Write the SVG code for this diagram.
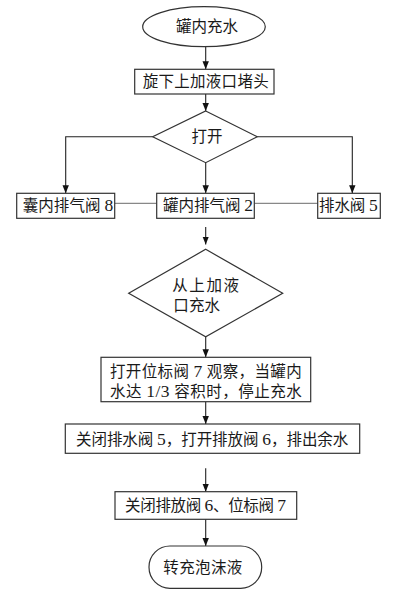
<svg xmlns="http://www.w3.org/2000/svg" width="412" height="596" viewBox="0 0 412 596">
<defs>
<marker id="ah" viewBox="0 0 10 10" refX="10" refY="5" markerWidth="8" markerHeight="8" markerUnits="userSpaceOnUse" orient="auto">
<path d="M0,1 L10,5 L0,9 Z" fill="#111"/>
</marker>
</defs>
<style>
.shape{fill:#fff;stroke:#333;stroke-width:1.2}
.t{font-family:"Liberation Serif","Noto Sans CJK SC",serif;font-size:15.5px;fill:#1a1a1a}
.d{font-size:17.5px}
.c{fill:none;stroke:#222;stroke-width:1.1}
.g{fill:none;stroke:#888;stroke-width:1.2}
.a{marker-end:url(#ah)}
</style>
<rect width="412" height="596" fill="#fff"/>
<g id="connectors">
<line class="c a" x1="205.7" y1="46.7" x2="205.7" y2="69.3"/>
<line class="c a" x1="205.7" y1="94" x2="205.7" y2="111"/>
<polyline class="c a" points="152.7,136.7 65.7,136.7 65.7,193.3"/>
<polyline class="c a" points="257.3,136.7 352.3,136.7 352.3,193.3"/>
<line class="c a" x1="205.7" y1="162.7" x2="205.7" y2="193.3"/>
<line class="g" x1="114.7" y1="203.3" x2="156.7" y2="203.3"/>
<line class="g" x1="254.3" y1="203.3" x2="317.7" y2="203.3"/>
<line class="c a" x1="205.7" y1="227" x2="205.7" y2="244.5"/>
<line class="c a" x1="205.7" y1="336.7" x2="205.7" y2="357.3"/>
<line class="c a" x1="205.7" y1="401.7" x2="205.7" y2="424"/>
<line class="c a" x1="205.7" y1="468.3" x2="205.7" y2="491.7"/>
<line class="c a" x1="205.7" y1="519.3" x2="205.7" y2="546"/>
</g>
<g id="start">
<ellipse class="shape" cx="204" cy="26.7" rx="61.3" ry="20"/>
<text class="t" x="207" y="32" text-anchor="middle">罐内充水</text>
</g>
<g id="step1">
<rect class="shape" x="134.7" y="69.3" width="139.3" height="24.7"/>
<text class="t" x="142.7" y="87" textLength="126" lengthAdjust="spacing">旋下上加液口堵头</text>
</g>
<g id="decision1">
<polygon class="shape" points="205.7,111 257.3,136.7 205.7,162.7 152.7,136.7"/>
<text class="t" x="207" y="142" text-anchor="middle">打开</text>
</g>
<g id="valve8">
<rect class="shape" x="16.7" y="193.3" width="98" height="25"/>
<text class="t" x="22.7" y="211" textLength="90.6" lengthAdjust="spacing">囊内排气阀 <tspan class="d">8</tspan></text>
</g>
<g id="valve2">
<rect class="shape" x="156.7" y="193.3" width="97.6" height="25"/>
<text class="t" x="163" y="211" textLength="90" lengthAdjust="spacing">罐内排气阀 <tspan class="d">2</tspan></text>
</g>
<g id="valve5">
<rect class="shape" x="317.7" y="193.3" width="62.6" height="25"/>
<text class="t" x="319" y="211" textLength="58.7" lengthAdjust="spacing">排水阀 <tspan class="d">5</tspan></text>
</g>
<g id="decision2">
<polygon class="shape" points="205.7,249.3 282.7,293.3 205.7,336.7 128.7,293.3"/>
<text class="t" x="172.3" y="291" textLength="66.7" lengthAdjust="spacing">从上加液</text>
<text class="t" x="173.3" y="311" textLength="46.7" lengthAdjust="spacing">口充水</text>
</g>
<g id="step2">
<rect class="shape" x="101" y="357.3" width="209.7" height="44.4"/>
<text class="t" x="110" y="377" textLength="191.7" lengthAdjust="spacing">打开位标阀 <tspan class="d">7</tspan> 观察，当罐内</text>
<text class="t" x="110" y="397" textLength="191.7" lengthAdjust="spacing">水达 <tspan class="d">1/3</tspan> 容积时，停止充水</text>
</g>
<g id="step3">
<rect class="shape" x="65.3" y="424" width="294.4" height="29.3"/>
<text class="t" x="76" y="444.5" textLength="272.3" lengthAdjust="spacing">关闭排水阀 <tspan class="d">5</tspan>，打开排放阀 <tspan class="d">6</tspan>，排出余水</text>
</g>
<g id="step4">
<rect class="shape" x="115" y="491.7" width="181.7" height="27.6"/>
<text class="t" x="125" y="511" textLength="161" lengthAdjust="spacing">关闭排放阀 <tspan class="d">6</tspan>、位标阀 <tspan class="d">7</tspan></text>
</g>
<g id="end">
<rect class="shape" x="149" y="546" width="112.7" height="42.3" rx="21" ry="21"/>
<text class="t" x="163.3" y="573" textLength="79" lengthAdjust="spacing">转充泡沫液</text>
</g>
</svg>
